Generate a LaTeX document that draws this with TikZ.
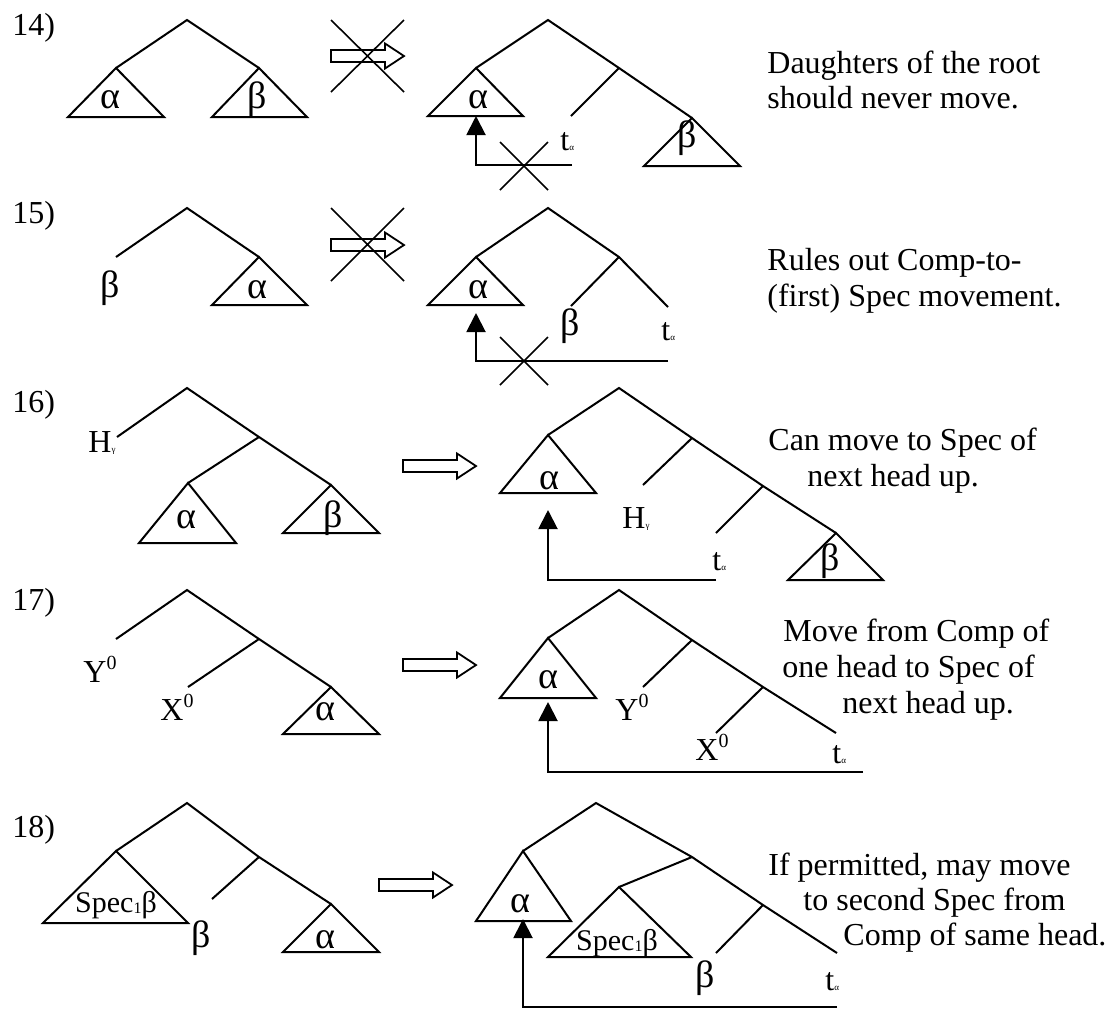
\documentclass[tikz,border=0pt]{standalone}
\usepackage{fontspec}
\setmainfont{Liberation Serif}
\usetikzlibrary{arrows.meta}
\newcommand\tinysub[1]{{\fontsize{4.5}{5}\selectfont #1}}
\newcommand\supzero{\raisebox{6.5pt}{\fontsize{10}{10}\selectfont 0}}
\newcommand\gk[1]{{\fontsize{19}{20}\selectfont #1}}
\newcommand\specone{{\fontsize{15}{16}\selectfont Spec\raisebox{-0.5pt}{\fontsize{8}{8}\selectfont 1}β}}
\tikzset{
  br/.style={line width=1pt},
  lab/.style={inner sep=0pt, font=\fontsize{16}{18}\selectfont},
  cen/.style={lab, anchor=base},
  lft/.style={lab, anchor=base west},
  strike/.style={line width=0.8pt},
  move/.style={line width=1pt, -{Triangle[width=9.5pt,length=9.5pt]}},
  hollow/.pic={\draw[line width=0.9pt] (0,-6) -- (54,-6) -- (54,-12.5) -- (73,0) -- (54,12.5) -- (54,6) -- (0,6) -- cycle;},
}
\begin{document}
\begin{tikzpicture}[x=0.5pt,y=-0.5pt]
\useasboundingbox (0,0) rectangle (1107,1009);

% example numbers
\node[lft] (n14) at (12,35) {14)};
\node[lft] (n15) at (12,223) {15)};
\node[lft] (n16) at (12,412) {16)};
\node[lft] (n17) at (12,610) {17)};
\node[lft] (n18) at (12,837) {18)};

% ---------- 14 ----------
\coordinate (r14) at (187,20);
\coordinate (a14) at (116,68);
\coordinate (b14) at (259,68);
\draw[br] (a14) -- (r14) -- (b14);
\draw[br] (a14) -- ++(-48,49) -- ++(96,0) -- cycle;
\draw[br] (b14) -- ++(-47,49) -- ++(95,0) -- cycle;
\node[cen] (al14) at (110,108) {\gk{α}};
\node[cen] (be14) at (257,108) {\gk{β}};
\pic at (331,56) {hollow};
\draw[strike] (331,20) -- (404,92) (331,92) -- (404,20);

\coordinate (R14) at (548,20);
\coordinate (A14) at (476,68);
\coordinate (N14) at (619,68);
\coordinate (L14) at (571,116);
\coordinate (B14) at (692,118);
\draw[br] (A14) -- (R14) -- (N14) -- (B14);
\draw[br] (N14) -- (L14);
\draw[br] (A14) -- ++(-48,48) -- ++(95,0) -- cycle;
\draw[br] (B14) -- ++(-48,48) -- ++(96,0) -- cycle;
\node[cen] (AL14) at (478,108) {\gk{α}};
\node[cen] (BE14) at (687,147) {\gk{β}};
\node[lft] (t14) at (560,150) {t\tinysub{α}};
\coordinate (m14) at (572,165);
\coordinate (h14) at (476,165);
\coordinate (u14) at (476,116);
\draw[move] (m14) -- (h14) -- (u14);
\draw[strike] (500,142) -- (548,190) (500,190) -- (548,142);
\node[lft] (c14a) at (767,73) {Daughters of the root};
\node[lft] (c14b) at (767,108) {should never move.};

% ---------- 15 ----------
\coordinate (r15) at (187,208);
\coordinate (a15) at (116,257);
\coordinate (b15) at (259,257);
\draw[br] (a15) -- (r15) -- (b15);
\draw[br] (b15) -- ++(-47,48) -- ++(95,0) -- cycle;
\node[cen] (be15) at (110,297) {\gk{β}};
\node[cen] (al15) at (257,298) {\gk{α}};
\pic at (331,245) {hollow};
\draw[strike] (331,208) -- (404,281) (331,281) -- (404,208);

\coordinate (R15) at (548,208);
\coordinate (A15) at (476,257);
\coordinate (N15) at (619,257);
\coordinate (L15) at (571,306);
\coordinate (T15) at (668,307);
\draw[br] (A15) -- (R15) -- (N15) -- (T15);
\draw[br] (N15) -- (L15);
\draw[br] (A15) -- ++(-48,48) -- ++(95,0) -- cycle;
\node[cen] (AL15) at (478,298) {\gk{α}};
\node[cen] (BE15) at (570,335) {\gk{β}};
\node[lft] (t15) at (661,340) {t\tinysub{α}};
\coordinate (m15) at (668,361);
\coordinate (h15) at (476,361);
\coordinate (u15) at (476,313);
\draw[move] (m15) -- (h15) -- (u15);
\draw[strike] (500,337) -- (548,385) (500,385) -- (548,337);
\node[lft] (c15a) at (767,270) {Rules out Comp-to-};
\node[lft] (c15b) at (767,306) {(first) Spec movement.};

% ---------- 16 ----------
\coordinate (r16) at (187,388);
\coordinate (h16) at (117,437);
\coordinate (n16) at (259,437);
\coordinate (a16) at (188,483);
\coordinate (b16) at (331,485);
\draw[br] (h16) -- (r16) -- (n16) -- (b16);
\draw[br] (n16) -- (a16);
\draw[br] (a16) -- ++(-49,60) -- ++(97,0) -- cycle;
\draw[br] (b16) -- ++(-48,48) -- ++(96,0) -- cycle;
\node[cen] (al16) at (186,528) {\gk{α}};
\node[cen] (be16) at (333,527) {\gk{β}};
\node[lft] (hg16) at (88,452) {H\tinysub{γ}};
\pic at (403,466) {hollow};

\coordinate (R16) at (619,388);
\coordinate (A16) at (548,435);
\coordinate (N16a) at (692,438);
\coordinate (N16b) at (763,486);
\coordinate (B16) at (836,533);
\coordinate (L16a) at (643,485);
\coordinate (L16b) at (716,533);
\draw[br] (A16) -- (R16) -- (N16a) -- (N16b) -- (B16);
\draw[br] (N16a) -- (L16a);
\draw[br] (N16b) -- (L16b);
\draw[br] (A16) -- ++(-48,58) -- ++(96,0) -- cycle;
\draw[br] (B16) -- ++(-48,47) -- ++(95,0) -- cycle;
\node[cen] (AL16) at (549,489) {\gk{α}};
\node[cen] (BE16) at (830,570) {\gk{β}};
\node[lft] (HG16) at (622,528) {H\tinysub{γ}};
\node[lft] (t16) at (712,570) {t\tinysub{α}};
\coordinate (m16) at (716,580);
\coordinate (h16b) at (548,580);
\coordinate (u16) at (548,510);
\draw[move] (m16) -- (h16b) -- (u16);
\node[lft] (c16a) at (768,450) {Can move to Spec of};
\node[lft] (c16b) at (807,486) {next head up.};

% ---------- 17 ----------
\coordinate (r17) at (187,590);
\coordinate (y17) at (116,639);
\coordinate (n17) at (259,639);
\coordinate (x17) at (188,687);
\coordinate (a17) at (331,687);
\draw[br] (y17) -- (r17) -- (n17) -- (a17);
\draw[br] (n17) -- (x17);
\draw[br] (a17) -- ++(-48,47) -- ++(96,0) -- cycle;
\node[cen] (al17) at (325,720) {\gk{α}};
\node[lft] (yl17) at (83,682) {Y\supzero};
\node[lft] (xl17) at (160,720) {X\supzero};
\pic at (403,665) {hollow};

\coordinate (R17) at (619,590);
\coordinate (A17) at (548,638);
\coordinate (N17a) at (692,640);
\coordinate (N17b) at (763,687);
\coordinate (T17) at (836,733);
\coordinate (L17a) at (643,687);
\coordinate (L17b) at (716,733);
\draw[br] (A17) -- (R17) -- (N17a) -- (N17b) -- (T17);
\draw[br] (N17a) -- (L17a);
\draw[br] (N17b) -- (L17b);
\draw[br] (A17) -- ++(-48,60) -- ++(96,0) -- cycle;
\node[cen] (AL17) at (548,688) {\gk{α}};
\node[lft] (YL17) at (615,720) {Y\supzero};
\node[lft] (XL17) at (695,760) {X\supzero};
\node[lft] (t17) at (832,763) {t\tinysub{α}};
\coordinate (m17) at (863,772);
\coordinate (h17) at (548,772);
\coordinate (u17) at (548,702);
\draw[move] (m17) -- (h17) -- (u17);
\node[lft] (c17a) at (783,641) {Move from Comp of};
\node[lft] (c17b) at (782,677) {one head to Spec of};
\node[lft] (c17c) at (842,713) {next head up.};

% ---------- 18 ----------
\coordinate (r18) at (187,803);
\coordinate (s18) at (116,851);
\coordinate (n18) at (259,857);
\coordinate (l18) at (212,899);
\coordinate (a18) at (331,904);
\draw[br] (s18) -- (r18) -- (n18) -- (a18);
\draw[br] (n18) -- (l18);
\draw[br] (s18) -- ++(-73,72) -- ++(145,0) -- cycle;
\draw[br] (a18) -- ++(-48,48) -- ++(96,0) -- cycle;
\node[cen] (sp18) at (116,912) {\specone};
\node[cen] (be18) at (201,947) {\gk{β}};
\node[cen] (al18) at (325,948) {\gk{α}};
\pic at (379,885) {hollow};

\coordinate (R18) at (596,803);
\coordinate (A18) at (523,851);
\coordinate (N18a) at (692,857);
\coordinate (S18) at (619,887);
\coordinate (N18b) at (763,905);
\coordinate (T18) at (837,953);
\coordinate (L18) at (716,953);
\draw[br] (A18) -- (R18) -- (N18a) -- (N18b) -- (T18);
\draw[br] (N18a) -- (S18);
\draw[br] (N18b) -- (L18);
\draw[br] (A18) -- ++(-47,70) -- ++(95,0) -- cycle;
\draw[br] (S18) -- ++(-71,70) -- ++(143,0) -- cycle;
\node[cen] (AL18) at (520,912) {\gk{α}};
\node[cen] (SP18) at (617,950) {\specone};
\node[cen] (BE18) at (705,987) {\gk{β}};
\node[lft] (t18) at (825,990) {t\tinysub{α}};
\coordinate (m18) at (837,1007);
\coordinate (h18) at (523,1007);
\coordinate (u18) at (523,919);
\draw[move] (m18) -- (h18) -- (u18);
\node[lft] (c18a) at (768,875) {If permitted, may move};
\node[lft] (c18b) at (803,910) {to second Spec from};
\node[lft] (c18c) at (843,945) {Comp of same head.};
\end{tikzpicture}
\end{document}
